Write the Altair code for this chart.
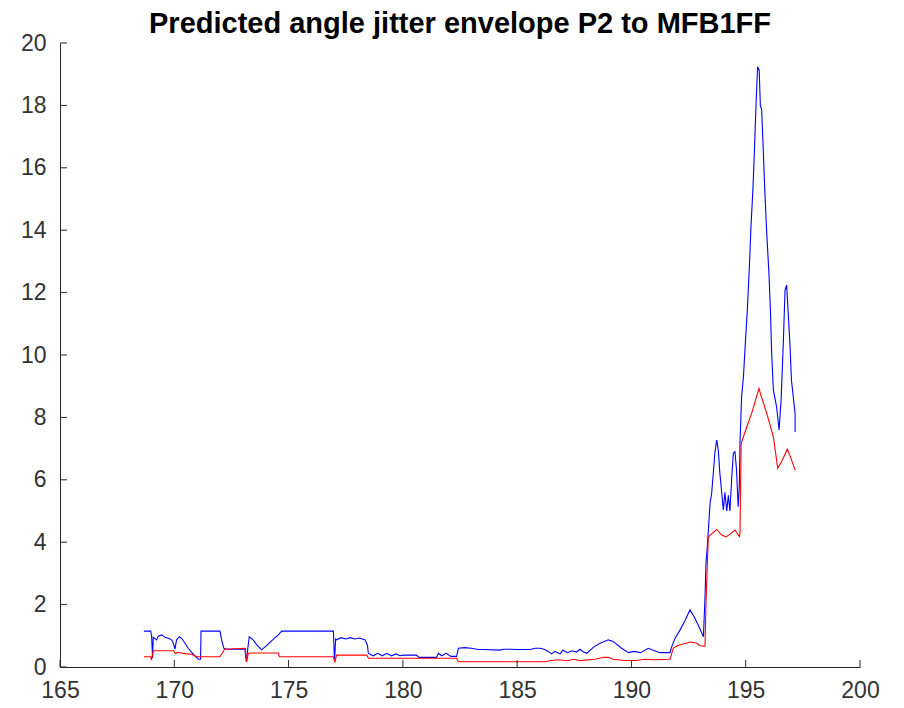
import altair as alt
import pandas as pd

blue_x = [168.67, 168.97, 169.01, 169.05, 169.08, 169.23, 169.30, 169.45, 169.59, 169.74, 169.88, 169.96,
          170.03, 170.10, 170.22, 170.32, 170.47, 170.61, 170.83, 171.05, 171.15, 171.17, 172.00, 172.07,
          172.17, 172.29, 173.09, 173.15, 173.20, 173.28, 173.45, 173.60, 173.82, 174.00, 174.30, 174.55,
          174.70, 176.96, 177.01, 177.06, 177.10, 177.30, 177.50, 177.70, 177.90, 178.10, 178.35, 178.45,
          178.49, 178.70, 178.90, 179.10, 179.30, 179.50, 179.70, 179.87, 180.05, 180.60, 180.70, 181.48,
          181.55, 181.70, 181.90, 182.10, 182.35, 182.43, 182.70, 183.00, 183.30, 183.52, 184.25, 184.40,
          184.76, 185.00, 185.56, 185.80, 186.00, 186.20, 186.36, 186.51, 186.65, 186.88, 187.00, 187.20,
          187.40, 187.60, 187.75, 187.90, 188.05, 188.33, 188.60, 188.99, 189.20, 189.57, 189.87, 190.10,
          190.40, 190.74, 190.95, 191.25, 191.69, 191.75, 191.91, 192.13, 192.35, 192.56, 192.75, 192.95,
          193.15, 193.22, 193.26, 193.33, 193.44, 193.51, 193.58, 193.65, 193.73, 193.80, 193.87, 193.95,
          194.02, 194.09, 194.17, 194.24, 194.31, 194.39, 194.46, 194.53, 194.60, 194.67, 194.72, 194.75,
          194.82, 194.90, 194.97, 195.07, 195.16, 195.23, 195.32, 195.39, 195.45, 195.52, 195.59, 195.64,
          195.70, 195.77, 195.84, 195.92, 196.02, 196.09, 196.13, 196.21, 196.35, 196.46, 196.55, 196.65,
          196.72, 196.79, 196.86, 196.94, 197.00, 197.16, 197.16]
blue_y = [1.15, 1.15, 0.97, 0.29, 0.95, 0.87, 0.99, 1.03, 0.95, 0.92, 0.87, 0.76,
          0.57, 0.87, 0.97, 0.92, 0.76, 0.60, 0.41, 0.25, 0.25, 1.15, 1.15, 0.87,
          0.60, 0.57, 0.57, 0.17, 0.50, 0.97, 0.87, 0.72, 0.55, 0.66, 0.87, 1.03,
          1.15, 1.15, 0.17, 0.90, 0.87, 0.94, 0.90, 0.94, 0.90, 0.93, 0.87, 0.70,
          0.44, 0.36, 0.44, 0.36, 0.44, 0.36, 0.42, 0.36, 0.38, 0.38, 0.31, 0.31,
          0.44, 0.36, 0.44, 0.34, 0.34, 0.60, 0.62, 0.60, 0.56, 0.56, 0.54, 0.57,
          0.57, 0.56, 0.56, 0.60, 0.60, 0.56, 0.50, 0.42, 0.50, 0.42, 0.54, 0.46,
          0.52, 0.48, 0.57, 0.48, 0.44, 0.63, 0.75, 0.87, 0.82, 0.60, 0.46, 0.50,
          0.46, 0.60, 0.54, 0.46, 0.46, 0.63, 0.92, 1.19, 1.50, 1.83, 1.60, 1.30,
          0.97, 2.25, 3.30, 3.96, 5.25, 5.56, 6.20, 6.85, 7.27, 6.96, 6.20, 5.60,
          5.03, 5.60, 5.00, 5.50, 5.00, 6.10, 6.85, 6.90, 6.30, 5.14, 5.80, 7.17,
          8.66, 9.30, 10.21, 11.44, 12.83, 14.11, 15.39, 16.73, 18.01, 19.24, 19.13, 18.00,
          17.85, 16.52, 15.18, 13.90, 12.56, 11.23, 10.16, 8.88, 8.34, 7.60, 8.60, 10.50,
          12.08, 12.24, 11.33, 10.27, 9.20, 8.13, 7.53]

red_x = [168.67, 168.97, 169.00, 169.08, 169.96, 170.05, 170.15, 170.30, 170.47, 170.76, 170.98, 172.00,
         172.20, 173.10, 173.17, 173.24, 173.40, 174.55, 174.60, 176.96, 177.03, 177.10, 178.42, 178.50,
         182.35, 182.43, 186.30, 186.40, 186.80, 187.20, 187.50, 187.75, 188.00, 188.40, 188.77, 189.00,
         189.20, 189.70, 190.20, 190.60, 191.00, 191.69, 191.83, 192.00, 192.27, 192.56, 192.85, 193.00,
         193.22, 193.26, 193.33, 193.36, 193.40, 193.73, 193.95, 194.14, 194.30, 194.53, 194.72, 194.75,
         194.80, 194.90, 195.05, 195.26, 195.58, 195.65, 195.92, 196.21, 196.40, 196.57, 196.82, 196.95,
         197.16]
red_y = [0.33, 0.33, 0.22, 0.52, 0.52, 0.43, 0.47, 0.45, 0.43, 0.41, 0.33, 0.33,
         0.57, 0.60, 0.17, 0.44, 0.45, 0.45, 0.33, 0.33, 0.17, 0.38, 0.38, 0.28,
         0.28, 0.17, 0.17, 0.20, 0.23, 0.20, 0.25, 0.20, 0.22, 0.25, 0.31, 0.31,
         0.25, 0.21, 0.21, 0.25, 0.23, 0.25, 0.60, 0.68, 0.74, 0.80, 0.77, 0.68,
         0.67, 2.00, 3.50, 4.12, 4.20, 4.41, 4.23, 4.17, 4.25, 4.39, 4.18, 4.30,
         7.17, 7.38, 7.70, 8.13, 8.93, 8.75, 8.13, 7.38, 6.37, 6.58, 6.98, 6.75,
         6.31]

x_ticks = [165, 170, 175, 180, 185, 190, 195, 200]
y_ticks = [0, 2, 4, 6, 8, 10, 12, 14, 16, 18, 20]

W, H = 800, 624
xs = alt.Scale(domain=[165, 200], nice=False, zero=False)
ys = alt.Scale(domain=[0, 20], nice=False)

blue_df = pd.DataFrame({"x": blue_x, "y": blue_y, "i": range(len(blue_x))})
red_df = pd.DataFrame({"x": red_x, "y": red_y, "i": range(len(red_x))})

label_font = "Liberation Sans"

x_axis = alt.Axis(values=x_ticks, tickSize=0, labelFontSize=23, labelFont=label_font,
                  labelColor="#333333", domainColor="#262626", domainWidth=1, grid=False,
                  labelPadding=12, title=None, labelFlush=False)
y_axis = alt.Axis(values=y_ticks, tickSize=0, labelFontSize=23, labelFont=label_font,
                  labelColor="#333333", domainColor="#262626", domainWidth=1, grid=False,
                  labelPadding=14, title=None)

blue = alt.Chart(blue_df).mark_line(color="#0000ff", strokeWidth=1.1).encode(
    x=alt.X("x:Q", scale=xs, axis=x_axis),
    y=alt.Y("y:Q", scale=ys, axis=y_axis),
    order="i:Q",
)
red = alt.Chart(red_df).mark_line(color="#ff0000", strokeWidth=1.1).encode(
    x=alt.X("x:Q", scale=xs),
    y=alt.Y("y:Q", scale=ys),
    order="i:Q",
)

xt = alt.Chart(pd.DataFrame({"t": x_ticks})).mark_rule(color="#262626", strokeWidth=1).encode(
    x=alt.X("t:Q", scale=xs), y=alt.value(H - 7), y2=alt.value(H))
yt = alt.Chart(pd.DataFrame({"t": y_ticks})).mark_rule(color="#262626", strokeWidth=1).encode(
    y=alt.Y("t:Q", scale=ys), x=alt.value(0), x2=alt.value(7))

chart = alt.layer(blue, red, xt, yt).properties(
    width=W, height=H,
    background="white",
    title=alt.TitleParams("Predicted angle jitter envelope P2 to MFB1FF", fontSize=29,
                          font=label_font, fontWeight="bold", color="#000000", offset=0,
                          dy=7, anchor="middle"),
    autosize=alt.AutoSizeParams(type="none"),
    padding={"left": 52, "top": 35, "right": 30, "bottom": 40},
).configure_view(strokeWidth=0, stroke="transparent")

chart.save("out.html", embed_options={"renderer": "svg", "actions": False})
